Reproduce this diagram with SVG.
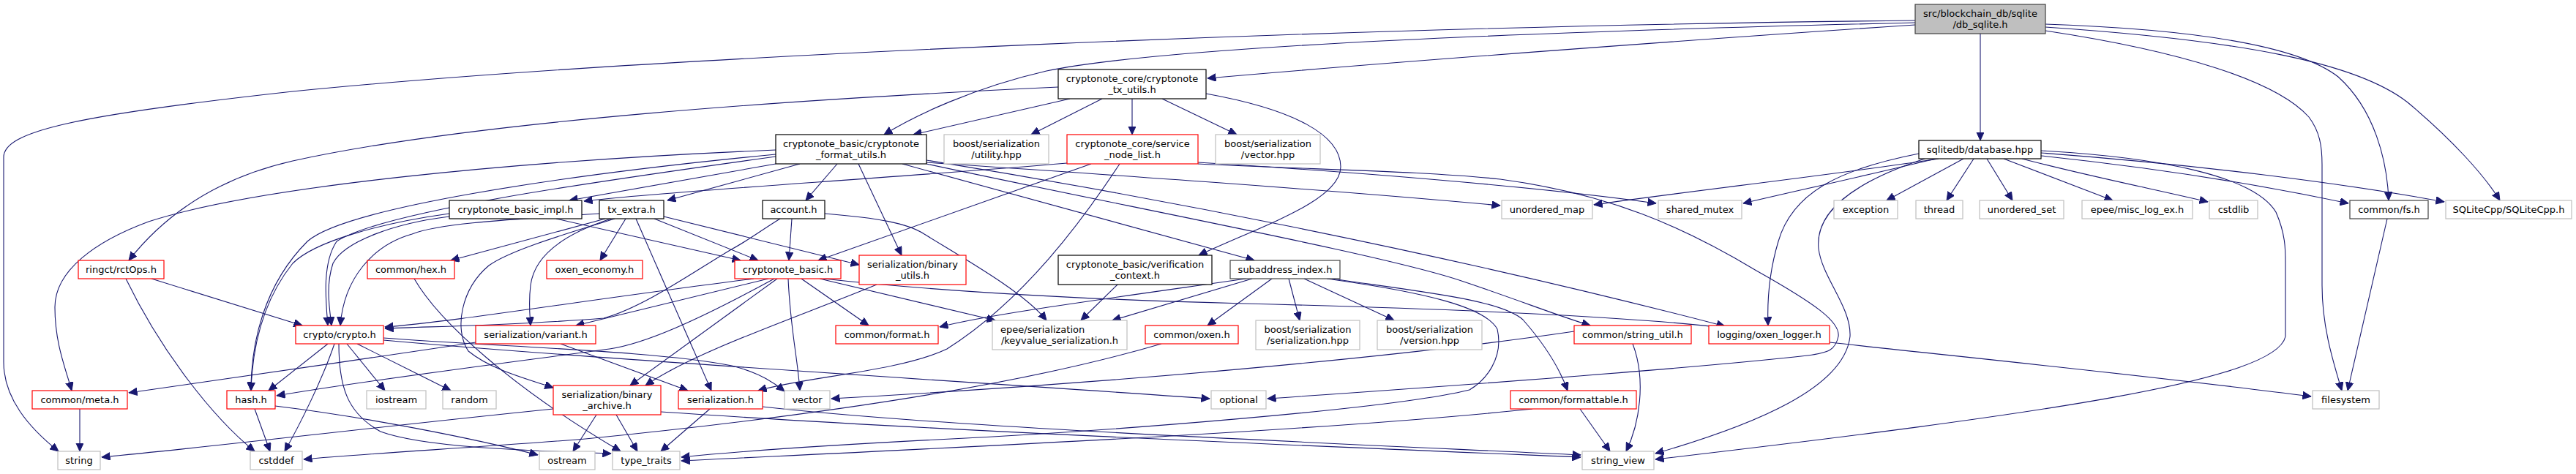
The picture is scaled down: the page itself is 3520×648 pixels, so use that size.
<svg xmlns="http://www.w3.org/2000/svg" width="3520" height="648" viewBox="0 0 3520 648">
<defs>
<marker id="a" markerWidth="12" markerHeight="11" refX="11.5" refY="5.25" orient="auto" markerUnits="userSpaceOnUse"><path d="M0,0 L11.5,5.25 L0,10.5 z" fill="#191970" stroke="#191970" stroke-width="1"/></marker>
<style>
.n rect{fill:#ffffff;stroke-width:1.2}
.blk rect{stroke:#000000}
.dk rect{stroke:#404040}
.red rect{stroke:#ff0000}
.gr rect{stroke:#bfbfbf}
.root rect{fill:#bfbfbf;stroke:#404040}
.n text{font-family:"DejaVu Sans","Liberation Sans",sans-serif;font-size:13px;fill:#000000;text-anchor:middle}
.n text.l{text-anchor:start}
#edges path{fill:none;stroke:#191970;stroke-width:1.1;marker-end:url(#a)}
</style>
</defs>
<rect width="3520" height="648" fill="#ffffff"/>
<g id="edges">
<path d="M2617,34 C2300,55 1900,85 1650,107"/>
<path d="M2617,31 C2150,42 1600,62 1430,97 C1330,120 1250,158 1208,184"/>
<path d="M2617,28 C1900,35 900,75 400,125 C100,158 5,180 5,215 L5,495 C5,545 40,585 80,617"/>
<path d="M2795,33 C3000,40 3140,62 3195,105 C3245,150 3262,220 3264,274"/>
<path d="M2795,37 C3060,55 3220,85 3290,140 C3350,190 3395,240 3416,274"/>
<path d="M2795,42 C2980,70 3110,110 3155,160 C3170,180 3173,200 3173,225 L3173,390 C3173,450 3190,500 3200,534"/>
<path d="M2706,46 L2706,192"/>
<path d="M1462,135 L1248,184"/>
<path d="M1506,135 L1409,184"/>
<path d="M1547,135 L1547,184"/>
<path d="M1588,135 L1690,184"/>
<path d="M1446,119 C1100,135 650,165 400,220 C290,245 220,300 176,356"/>
<path d="M1648,128 C1770,150 1832,185 1832,228 C1832,275 1720,310 1638,349"/>
<path d="M1060,224 L778,274"/>
<path d="M1093,224 L912,274"/>
<path d="M1144,224 L1101,274"/>
<path d="M1266,222 C1500,238 1800,258 2050,281"/>
<path d="M1233,224 L1714,356"/>
<path d="M1266,219 C1550,265 1950,340 2357,446"/>
<path d="M1266,224 C1550,285 1900,350 2000,385 C2080,412 2130,432 2173,445"/>
<path d="M1060,205 C700,220 350,255 203,303 C130,330 75,370 75,420 C75,470 90,505 98,534"/>
<path d="M1060,211 C760,240 470,285 420,330 C360,390 343,470 343,534"/>
<path d="M1060,214 C800,250 520,290 460,330 C440,360 445,410 448,445"/>
<path d="M1173,224 L1232,349"/>
<path d="M1458,223 C1200,245 900,262 798,275"/>
<path d="M1491,224 L1118,356"/>
<path d="M1530,224 C1480,300 1400,410 1294,477 C1230,508 1100,515 1036,534"/>
<path d="M1637,222 C1850,235 2100,255 2263,278"/>
<path d="M1637,224 C1800,232 1950,234 2050,245 C2200,265 2300,310 2400,370 C2480,415 2515,440 2512,460 C2508,478 2500,482 2470,486 C2300,505 1950,530 1732,545"/>
<path d="M827,299 L616,356"/>
<path d="M855,299 L820,356"/>
<path d="M869,299 L972,534"/>
<path d="M894,299 L1036,356"/>
<path d="M907,296 L1174,362"/>
<path d="M835,299 C770,320 730,350 725,390 C722,415 724,430 725,445"/>
<path d="M840,299 C790,315 700,340 668,363 C630,395 620,450 640,480 C670,505 720,518 756,530"/>
<path d="M819,292 C700,300 600,305 563,320 C510,335 470,380 465,445"/>
<path d="M760,299 L1012,356"/>
<path d="M614,296 C540,305 470,330 455,360 C445,390 450,420 453,445"/>
<path d="M614,292 C520,305 430,330 400,360 C360,410 345,470 343,534"/>
<path d="M1082,299 L1078,356"/>
<path d="M1127,292 C1200,298 1240,305 1263,320 C1320,355 1400,400 1430,438"/>
<path d="M1066,299 C1040,315 1020,330 1001,340 C950,370 880,420 825,435 C700,445 600,446 526,449"/>
<path d="M1030,381 C800,410 620,440 526,447"/>
<path d="M1050,381 L787,445"/>
<path d="M1058,381 C950,440 880,470 833,477 C700,495 500,520 378,541"/>
<path d="M1062,381 L861,527"/>
<path d="M1077,381 C1080,450 1090,490 1093,534"/>
<path d="M1095,381 L1187,445"/>
<path d="M1120,381 L1360,438"/>
<path d="M1125,381 C1300,400 1500,410 1700,415 C1900,420 2200,430 2357,448"/>
<path d="M1198,389 C1100,430 950,480 882,527"/>
<path d="M1527,389 L1477,438"/>
<path d="M1703,381 C1500,410 1350,430 1284,447"/>
<path d="M1711,381 L1520,438"/>
<path d="M1738,381 L1650,445"/>
<path d="M1761,381 L1776,438"/>
<path d="M1782,381 L1905,438"/>
<path d="M1820,381 C1950,400 2050,410 2081,437 C2110,470 2130,500 2142,534"/>
<path d="M1813,381 C1950,400 2030,420 2046,450 C2055,490 2030,520 2008,533 C1900,560 1500,590 1300,600 C1100,610 1000,618 931,625"/>
<path d="M2151,453 C1900,490 1500,525 1136,545"/>
<path d="M2231,470 C2250,520 2240,580 2222,617"/>
<path d="M2500,468 C2700,490 2950,515 3158,542"/>
<path d="M3262,299 L3208,534"/>
<path d="M2649,217 C2500,240 2300,262 2178,280"/>
<path d="M2645,217 C2550,240 2450,262 2382,278"/>
<path d="M2683,217 L2578,274"/>
<path d="M2697,217 L2660,274"/>
<path d="M2715,217 L2750,274"/>
<path d="M2738,217 L2887,274"/>
<path d="M2763,217 C2850,240 2950,260 3017,276"/>
<path d="M2789,213 C2950,230 3100,255 3209,278"/>
<path d="M2789,209 C3000,225 3200,250 3340,276"/>
<path d="M2622,210 C2520,230 2450,260 2430,330 C2415,380 2415,420 2416,445"/>
<path d="M2630,217 C2530,250 2480,290 2485,340 C2490,380 2530,420 2528,460 C2520,530 2400,580 2262,620"/>
<path d="M2789,206 C2950,215 3080,240 3110,290 C3123,320 3123,340 3123,360 L3123,460 C3110,520 2800,565 2262,628"/>
<path d="M2159,559 L2200,617"/>
<path d="M2094,559 C1800,590 1300,612 931,630"/>
<path d="M109,559 L109,617"/>
<path d="M348,559 L369,617"/>
<path d="M376,555 C500,570 650,600 735,622"/>
<path d="M448,470 L367,534"/>
<path d="M457,470 C440,520 410,580 389,617"/>
<path d="M474,470 L526,534"/>
<path d="M488,470 L616,534"/>
<path d="M463,470 C463,530 475,565 520,590 C580,612 720,616 835,620"/>
<path d="M524,465 C800,490 1300,520 1653,545"/>
<path d="M524,462 C700,475 900,480 1000,500 C1040,510 1060,525 1072,535"/>
<path d="M207,381 L413,445"/>
<path d="M172,381 C220,480 290,570 348,617"/>
<path d="M566,381 C600,440 700,530 848,617"/>
<path d="M766,470 L940,534"/>
<path d="M650,468 C500,490 300,520 176,537"/>
<path d="M815,567 L783,617"/>
<path d="M842,567 L871,617"/>
<path d="M756,559 C500,585 300,610 139,625"/>
<path d="M903,563 C1300,590 1800,610 2160,625"/>
<path d="M970,559 L903,617"/>
<path d="M1042,556 C1300,585 1800,605 2160,622"/>
<path d="M1587,470 C1350,540 1000,580 800,600 C650,612 500,620 415,628"/>
</g>
<g id="n_root" class="n root"><rect x="2617" y="6" width="178" height="40"/><text x="2706" y="22.5">src/blockchain_db/sqlite</text><text x="2706" y="37.5">/db_sqlite.h</text></g>
<g id="n_txu" class="n blk"><rect x="1446" y="95" width="202" height="40"/><text x="1547" y="111.5">cryptonote_core/cryptonote</text><text x="1547" y="126.5">_tx_utils.h</text></g>
<g id="n_fmt" class="n blk"><rect x="1060" y="184" width="206" height="40"/><text x="1163" y="200.5">cryptonote_basic/cryptonote</text><text x="1163" y="215.5">_format_utils.h</text></g>
<g id="n_util" class="n gr"><rect x="1290" y="184" width="143" height="40"/><text x="1361.5" y="200.5">boost/serialization</text><text x="1361.5" y="215.5">/utility.hpp</text></g>
<g id="n_snl" class="n red"><rect x="1458" y="184" width="179" height="40"/><text x="1547.5" y="200.5">cryptonote_core/service</text><text x="1547.5" y="215.5">_node_list.h</text></g>
<g id="n_vec" class="n gr"><rect x="1661" y="184" width="143" height="40"/><text x="1732.5" y="200.5">boost/serialization</text><text x="1732.5" y="215.5">/vector.hpp</text></g>
<g id="n_db" class="n blk"><rect x="2622" y="192" width="167" height="25"/><text x="2705.5" y="209">sqlitedb/database.hpp</text></g>
<g id="n_impl" class="n blk"><rect x="614" y="274" width="181" height="25"/><text x="704.5" y="291">cryptonote_basic_impl.h</text></g>
<g id="n_txx" class="n blk"><rect x="819" y="274" width="88" height="25"/><text x="863" y="291">tx_extra.h</text></g>
<g id="n_acc" class="n blk"><rect x="1042" y="274" width="85" height="25"/><text x="1084.5" y="291">account.h</text></g>
<g id="n_umap" class="n gr"><rect x="2052" y="274" width="124" height="25"/><text x="2114" y="291">unordered_map</text></g>
<g id="n_smtx" class="n gr"><rect x="2266" y="274" width="114" height="25"/><text x="2323" y="291">shared_mutex</text></g>
<g id="n_exc" class="n gr"><rect x="2506" y="274" width="87" height="25"/><text x="2549.5" y="291">exception</text></g>
<g id="n_thr" class="n gr"><rect x="2618" y="274" width="64" height="25"/><text x="2650" y="291">thread</text></g>
<g id="n_uset" class="n gr"><rect x="2705" y="274" width="115" height="25"/><text x="2762.5" y="291">unordered_set</text></g>
<g id="n_misc" class="n gr"><rect x="2845" y="274" width="151" height="25"/><text x="2920.5" y="291">epee/misc_log_ex.h</text></g>
<g id="n_cstdlib" class="n gr"><rect x="3019" y="274" width="66" height="25"/><text x="3052" y="291">cstdlib</text></g>
<g id="n_fs" class="n dk"><rect x="3211" y="274" width="107" height="25"/><text x="3264.5" y="291">common/fs.h</text></g>
<g id="n_sqlcpp" class="n gr"><rect x="3342" y="274" width="172" height="25"/><text x="3428" y="291">SQLiteCpp/SQLiteCpp.h</text></g>
<g id="n_rct" class="n red"><rect x="107" y="356" width="117" height="25"/><text x="165.5" y="373">ringct/rctOps.h</text></g>
<g id="n_hex" class="n red"><rect x="502" y="356" width="119" height="25"/><text x="561.5" y="373">common/hex.h</text></g>
<g id="n_econ" class="n red"><rect x="747" y="356" width="131" height="25"/><text x="812.5" y="373">oxen_economy.h</text></g>
<g id="n_cb" class="n red"><rect x="1004" y="356" width="145" height="25"/><text x="1076.5" y="373">cryptonote_basic.h</text></g>
<g id="n_bu" class="n red"><rect x="1174" y="349" width="146" height="40"/><text x="1247" y="365.5">serialization/binary</text><text x="1247" y="380.5">_utils.h</text></g>
<g id="n_vc" class="n blk"><rect x="1446" y="349" width="210" height="40"/><text x="1551" y="365.5">cryptonote_basic/verification</text><text x="1551" y="380.5">_context.h</text></g>
<g id="n_sai" class="n dk"><rect x="1681" y="356" width="150" height="25"/><text x="1756" y="373">subaddress_index.h</text></g>
<g id="n_crypto" class="n red"><rect x="404" y="445" width="120" height="25"/><text x="464" y="462">crypto/crypto.h</text></g>
<g id="n_var" class="n red"><rect x="650" y="445" width="164" height="25"/><text x="732" y="462">serialization/variant.h</text></g>
<g id="n_fmth" class="n red"><rect x="1142" y="445" width="140" height="25"/><text x="1212" y="462">common/format.h</text></g>
<g id="n_kv" class="n gr"><rect x="1356" y="438" width="184" height="40"/><text class="l" x="1367" y="454.5">epee/serialization</text><text x="1448" y="469.5">/keyvalue_serialization.h</text></g>
<g id="n_oxen" class="n red"><rect x="1565" y="445" width="127" height="25"/><text x="1628.5" y="462">common/oxen.h</text></g>
<g id="n_bser" class="n gr"><rect x="1716" y="438" width="142" height="40"/><text x="1787" y="454.5">boost/serialization</text><text x="1787" y="469.5">/serialization.hpp</text></g>
<g id="n_bver" class="n gr"><rect x="1882" y="438" width="143" height="40"/><text x="1953.5" y="454.5">boost/serialization</text><text x="1953.5" y="469.5">/version.hpp</text></g>
<g id="n_su" class="n red"><rect x="2151" y="445" width="160" height="25"/><text x="2231" y="462">common/string_util.h</text></g>
<g id="n_log" class="n red"><rect x="2335" y="445" width="165" height="25"/><text x="2417.5" y="462">logging/oxen_logger.h</text></g>
<g id="n_meta" class="n red"><rect x="44" y="534" width="130" height="25"/><text x="109" y="551">common/meta.h</text></g>
<g id="n_hash" class="n red"><rect x="310" y="534" width="66" height="25"/><text x="343" y="551">hash.h</text></g>
<g id="n_ios" class="n gr"><rect x="501" y="534" width="81" height="25"/><text x="541.5" y="551">iostream</text></g>
<g id="n_rand" class="n gr"><rect x="605" y="534" width="73" height="25"/><text x="641.5" y="551">random</text></g>
<g id="n_ba" class="n red"><rect x="756" y="527" width="147" height="40"/><text x="829.5" y="543.5">serialization/binary</text><text x="829.5" y="558.5">_archive.h</text></g>
<g id="n_ser" class="n red"><rect x="927" y="534" width="115" height="25"/><text x="984.5" y="551">serialization.h</text></g>
<g id="n_vector" class="n gr"><rect x="1072" y="534" width="62" height="25"/><text x="1103" y="551">vector</text></g>
<g id="n_opt" class="n gr"><rect x="1655" y="534" width="75" height="25"/><text x="1692.5" y="551">optional</text></g>
<g id="n_fmtt" class="n red"><rect x="2064" y="534" width="172" height="25"/><text x="2150" y="551">common/formattable.h</text></g>
<g id="n_fsys" class="n gr"><rect x="3160" y="534" width="91" height="25"/><text x="3205.5" y="551">filesystem</text></g>
<g id="n_str" class="n gr"><rect x="79" y="617" width="58" height="25"/><text x="108" y="634">string</text></g>
<g id="n_cstddef" class="n gr"><rect x="342" y="617" width="71" height="25"/><text x="377.5" y="634">cstddef</text></g>
<g id="n_ostr" class="n gr"><rect x="737" y="617" width="76" height="25"/><text x="775" y="634">ostream</text></g>
<g id="n_tt" class="n gr"><rect x="837" y="617" width="92" height="25"/><text x="883" y="634">type_traits</text></g>
<g id="n_sv" class="n gr"><rect x="2162" y="617" width="98" height="25"/><text x="2211" y="634">string_view</text></g>
</svg>
